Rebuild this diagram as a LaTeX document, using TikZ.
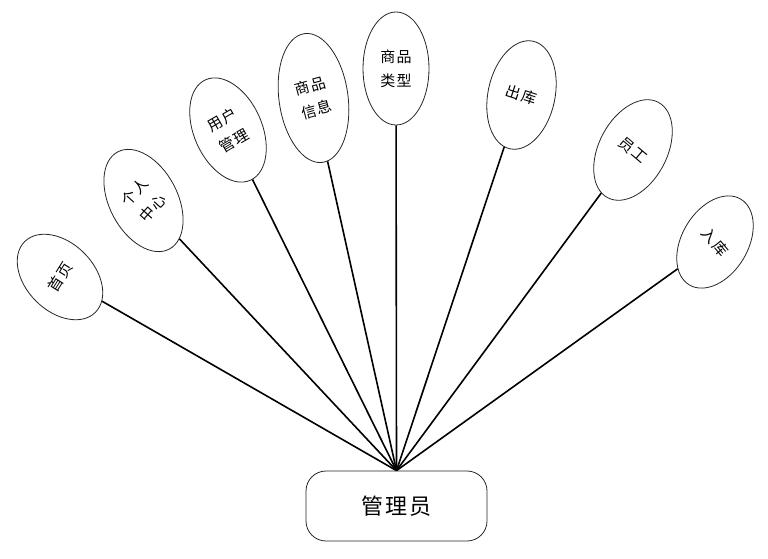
\documentclass[tikz,border=0pt]{standalone}
\usepackage{fontspec}
\newfontfamily\cjk[LetterSpace=8]{Noto Sans CJK SC}
\usetikzlibrary{shapes.geometric, positioning}

\begin{document}
\begin{tikzpicture}[x=1pt, y=-1pt,
    oval/.style={ellipse, draw=black!85, line width=0.8pt, inner sep=0pt, minimum width=68pt, minimum height=110pt},
    label/.style={inner sep=0pt, align=center, font=\cjk\fontsize{15}{24}\selectfont},
    role/.style={rectangle, rounded corners=20pt, draw=black!85, line width=0.8pt, minimum width=181pt, minimum height=70pt, font=\cjk\fontsize{22}{26}\selectfont},
    line/.style={draw, line width=1.6pt}
]
\useasboundingbox (0,0) rectangle (768,559);

% Actor
\node[role] (admin) at (396.5,506) {管理员};

% Functions
\node[oval, minimum height=100pt, rotate=45] (home) at (60,277) {};
\node[label, rotate=58] (home-t) at (home) {首页};
\node[oval, rotate=28] (profile) at (143.5,200.5) {};
\node[label, rotate=48] (profile-t) at (profile) {个人\\中心};
\node[oval, rotate=24] (users) at (228,130) {};
\node[label, rotate=30] (users-t) at (users) {用户\\管理};
\node[oval, minimum width=69pt, minimum height=130pt, rotate=8] (goods) at (313.5,98) {};
\node[label, rotate=15] (goods-t) at (goods) {商品\\信息};
\node[oval, minimum width=66pt, minimum height=113pt] (types) at (396,68.5) {};
\node[label] (types-t) at (types) {商品\\类型};
\node[oval, minimum width=67pt, rotate=-12] (stockout) at (521.5,95) {};
\node[label, rotate=-18] (stockout-t) at (stockout) {出库};
\node[oval, minimum height=108pt, rotate=-28] (staff) at (633,150) {};
\node[label, rotate=-40] (staff-t) at (staff) {员工};
\node[oval, minimum width=66pt, minimum height=100pt, rotate=-31] (stockin) at (715,242) {};
\node[label, rotate=-50] (stockin-t) at (stockin) {入库};

% Connections
\foreach \f in {home, profile, users, goods, types, stockout, staff, stockin}
    \path [line] (admin.north) -- (\f);

\end{tikzpicture}
\end{document}
